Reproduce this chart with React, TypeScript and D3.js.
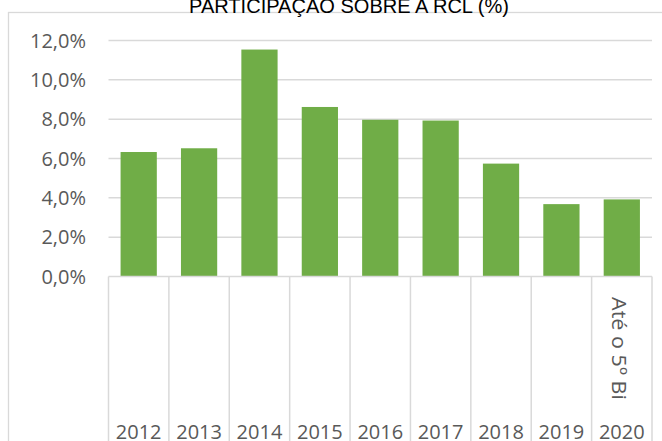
import React from "react";
import * as d3 from "d3";

const categories = ["2012", "2013", "2014", "2015", "2016", "2017", "2018", "2019", "2020"];
const values = [0.0633, 0.0652, 0.1154, 0.0862, 0.0797, 0.0793, 0.0574, 0.0368, 0.0392];
const yTicks = [0, 0.02, 0.04, 0.06, 0.08, 0.1, 0.12];
const titleText = "PARTICIPAÇÃO SOBRE A RCL (%)";
const extraLabel = "Até o 5º Bi";

const W = 662;
const H = 441;
const plotLeft = 108.5;
const plotRight = 652;
const yTop = 40.5;
const yBottom = 276.5;

const GRID = "#d9d9d9";
const TXT = "#595959";
const GREEN = "#70AD47";
const FONT = "'Open Sans', 'Noto Sans', sans-serif";

export default function App() {
  const x = d3
    .scaleBand<string>()
    .domain(categories)
    .range([plotLeft, plotRight])
    .paddingInner(0.4)
    .paddingOuter(0.2);
  const y = d3.scaleLinear().domain([0, 0.12]).range([yBottom, yTop]);
  const fmt = (v: number) => (v * 100).toFixed(1).replace(".", ",") + "%";
  const step = x.step();
  const cellEdges = d3.range(categories.length + 1).map((i) => plotLeft + i * step);

  return (
    <svg
      width={W}
      height={H}
      style={{ position: "absolute", left: 0, top: 0, display: "block" }}
    >
      <rect x={0} y={0} width={W} height={H} fill="#ffffff" />
      {/* chart frame */}
      <rect x={8.5} y={12.5} width={W + 20} height={H + 20} fill="none" stroke={GRID} strokeWidth={1.3} />
      {/* gridlines */}
      {yTicks.slice(1).map((t) => (
        <line key={t} x1={plotLeft} x2={plotRight} y1={y(t)} y2={y(t)} stroke={GRID} strokeWidth={1.5} />
      ))}
      {/* y labels */}
      {yTicks.map((t) => (
        <text
          key={"l" + t}
          x={86}
          y={y(t)}
          dy="0.35em"
          textAnchor="end"
          fontFamily={FONT}
          fontSize={20}
          fill={TXT}
        >
          {fmt(t)}
        </text>
      ))}
      {/* bars */}
      {categories.map((c, i) => (
        <rect
          key={c}
          x={x(c)}
          y={y(values[i])}
          width={x.bandwidth()}
          height={y(0) - y(values[i])}
          fill={GREEN}
        />
      ))}
      {/* category axis cells */}
      <line x1={plotLeft} x2={plotRight} y1={yBottom} y2={yBottom} stroke={GRID} strokeWidth={1.5} />
      {cellEdges.map((ex, i) => (
        <line key={"v" + i} x1={ex} x2={ex} y1={yBottom} y2={H + 5} stroke={GRID} strokeWidth={1.5} />
      ))}
      {categories.map((c) => (
        <text
          key={"c" + c}
          x={(x(c) as number) + x.bandwidth() / 2}
          y={439}
          textAnchor="middle"
          fontFamily={FONT}
          fontSize={20}
          fill={TXT}
        >
          {c}
        </text>
      ))}
      <text
        transform={`translate(${611.5},${297}) rotate(90)`}
        fontFamily={FONT}
        fontSize={20}
        fill={TXT}
        textLength={103}
        lengthAdjust="spacingAndGlyphs"
      >
        {extraLabel}
      </text>
      {/* title (clipped at top) */}
      <text
        x={349}
        y={13}
        textAnchor="middle"
        fontFamily="'Liberation Sans Narrow', 'Arial Narrow', 'Liberation Sans', sans-serif"
        fontSize={20}
        fill="#000000"
        textLength={320}
        lengthAdjust="spacingAndGlyphs"
      >
        {titleText}
      </text>
    </svg>
  );
}
